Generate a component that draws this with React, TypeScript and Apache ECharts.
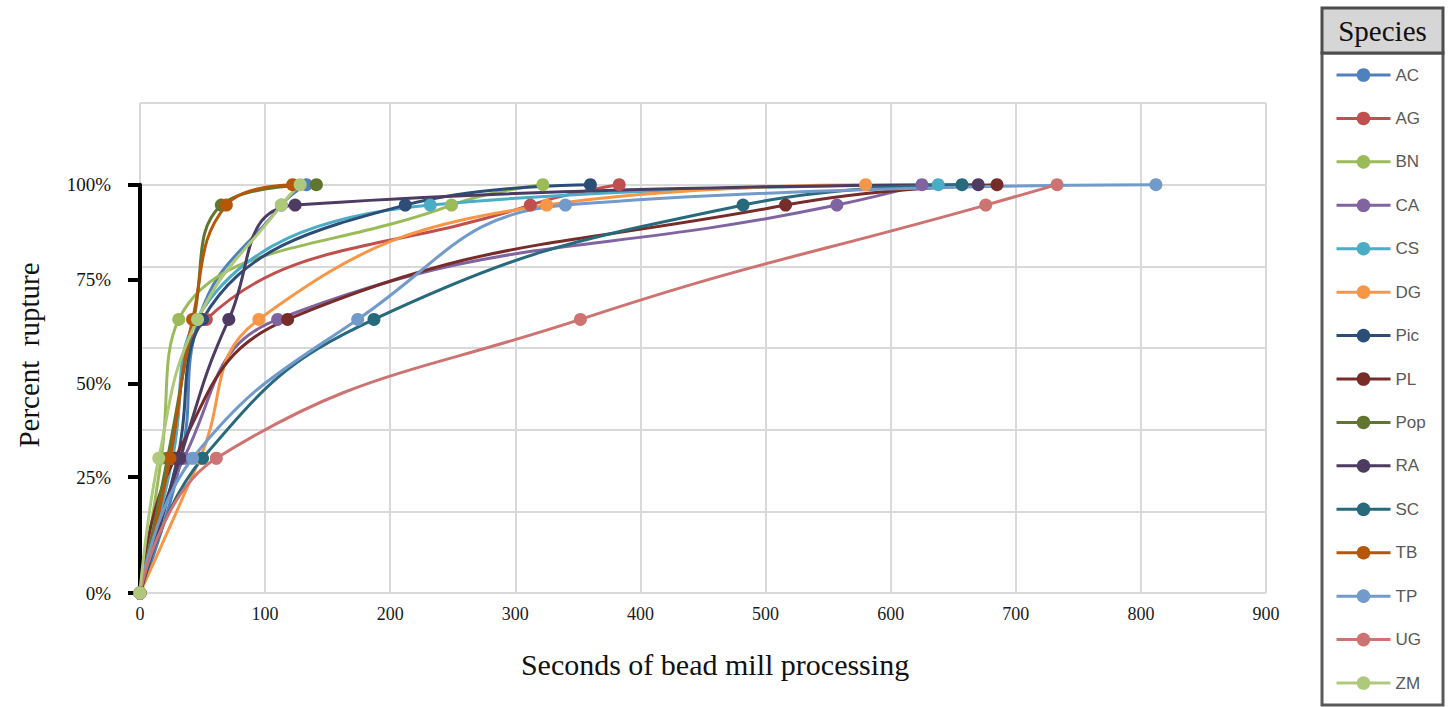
import React, { useEffect, useRef } from "react";
import * as echarts from "echarts";

// Shared rupture levels (underlying axis units) for every species
const levels = [0, 33, 67, 95, 100];

const species = ["AC", "AG", "BN", "CA", "CS", "DG", "Pic", "PL", "Pop", "RA", "SC", "TB", "TP", "UG", "ZM"];

// Seconds of bead mill processing at which each level was reached
const secAC = [0, 33, 47, 113, 133];
const secAG = [0, 25, 53, 312, 383];
const secBN = [0, 17, 31, 249, 322];
const secCA = [0, 35, 110, 557, 625];
const secCS = [0, 26, 45, 232, 638];
const secDG = [0, 48, 95, 325, 580];
const secPic = [0, 30, 50, 212, 360];
const secPL = [0, 28, 118, 516, 685];
const secPop = [0, 22, 43, 65, 141];
const secRA = [0, 32, 71, 124, 670];
const secSC = [0, 50, 187, 482, 657];
const secTB = [0, 24, 42, 69, 122];
const secTP = [0, 42, 174, 340, 812];
const secUG = [0, 61, 352, 676, 733];
const secZM = [0, 15, 46, 113, 128];

const seconds = [secAC, secAG, secBN, secCA, secCS, secDG, secPic, secPL, secPop, secRA, secSC, secTB, secTP, secUG, secZM];

const colors = [
  "#4F81BD", "#C0504D", "#9BBB59", "#8064A2", "#4BACC6", "#F79646", "#2C4D75",
  "#772C2A", "#5F7530", "#4D3B62", "#276A7C", "#B65708", "#729ACA", "#CD7371", "#AFC97A",
];

// Overlay y-axis tick labels and where they sit on the underlying scale
const yTickLabels = ["0%", "25%", "50%", "75%", "100%"];
const yTickValues = [0, 28.4, 51.3, 76.8, 100];

const xTitle = "Seconds of bead mill processing";
const yTitle = "Percent  rupture";
const legendTitle = "Species";

export default function App() {
  const ref = useRef<HTMLDivElement>(null);
  useEffect(() => {
    if (!ref.current) return;
    const chart = echarts.init(ref.current, undefined, { renderer: "svg" });
    const serif = "'Liberation Serif', 'Times New Roman', serif";
    const series = species.map((name, i) => ({
      name,
      type: "line",
      xAxisIndex: 0,
      yAxisIndex: 0,
      smooth: 0.45,
      symbol: "circle",
      symbolSize: 13,
      showSymbol: true,
      lineStyle: { width: 3, color: colors[i] },
      itemStyle: { color: colors[i] },
      data: seconds[i].map((s, k) => [s, levels[k]]),
    }));
    chart.setOption({
      animation: false,
      backgroundColor: "#ffffff",
      grid: [
        { left: 140, right: 184, top: 103, bottom: 114 },
        { left: 140, right: 184, top: 184.7, bottom: 114 },
      ],
      xAxis: [
        {
          type: "value",
          gridIndex: 0,
          min: 0,
          max: 900,
          interval: 100,
          axisLine: { show: false },
          axisTick: { show: false },
          splitLine: { show: true, lineStyle: { color: "#d9d9d9", width: 2 } },
          axisLabel: { fontFamily: serif, fontSize: 18, color: "#1a1a1a", margin: 12 },
          name: xTitle,
          nameLocation: "middle",
          nameGap: 56,
          nameTextStyle: { fontFamily: serif, fontSize: 30, color: "#111", padding: [0, 0, 0, 24] },
        },
        { type: "value", gridIndex: 1, min: 0, max: 900, show: false },
      ],
      yAxis: [
        {
          type: "value",
          gridIndex: 0,
          min: 0,
          max: 120,
          interval: 20,
          axisLine: { show: false },
          axisTick: { show: false },
          axisLabel: { show: false },
          splitLine: { show: true, lineStyle: { color: "#d9d9d9", width: 2 } },
          name: yTitle,
          nameLocation: "middle",
          nameRotate: 90,
          nameGap: 97,
          nameTextStyle: { fontFamily: serif, fontSize: 29, color: "#111", padding: [0, 14, 0, 0] },
        },
        {
          type: "value",
          gridIndex: 1,
          min: 0,
          max: 100,
          offset: 7,
          splitLine: { show: false },
          axisLine: { show: true, lineStyle: { color: "#000", width: 4 } },
          axisTick: {
            show: true,
            length: 12,
            customValues: yTickValues,
            lineStyle: { color: "#000", width: 4 },
          },
          axisLabel: {
            customValues: yTickValues,
            margin: 22,
            fontFamily: serif,
            fontSize: 19,
            color: "#111",
            formatter: (v: number) => {
              const idx = yTickValues.findIndex((t) => Math.abs(t - v) < 0.01);
              return idx >= 0 ? yTickLabels[idx] : "";
            },
          },
        },
      ],
      legend: {
        orient: "vertical",
        left: 1335,
        top: 66.5,
        padding: 0,
        itemWidth: 54,
        itemHeight: 17,
        itemGap: 26.43,
        data: species,
        lineStyle: { width: 3 },
        textStyle: {
          fontFamily: "'Liberation Sans', Arial, sans-serif",
          fontSize: 17,
          color: "#595959",
          lineHeight: 17,
        },
      },
      graphic: [
        {
          type: "rect",
          z: 0,
          shape: { x: 1322, y: 53, width: 121, height: 652 },
          style: { fill: "#ffffff", stroke: "#5a5a5a", lineWidth: 3 },
        },
        {
          type: "rect",
          z: 0,
          shape: { x: 1322, y: 8, width: 121, height: 45 },
          style: { fill: "#d6d6d6", stroke: "#4d4d4d", lineWidth: 3 },
        },
        {
          type: "text",
          z: 1,
          x: 1382.5,
          y: 31,
          style: {
            text: legendTitle,
            font: "29px 'Liberation Serif', serif",
            fill: "#111",
            align: "center",
            verticalAlign: "middle",
          },
        },
      ],
      series,
    });
    return () => chart.dispose();
  }, []);
  return (
    <div
      ref={ref}
      style={{ position: "fixed", left: 0, top: 0, width: "1450px", height: "707px", background: "#fff" }}
    />
  );
}
